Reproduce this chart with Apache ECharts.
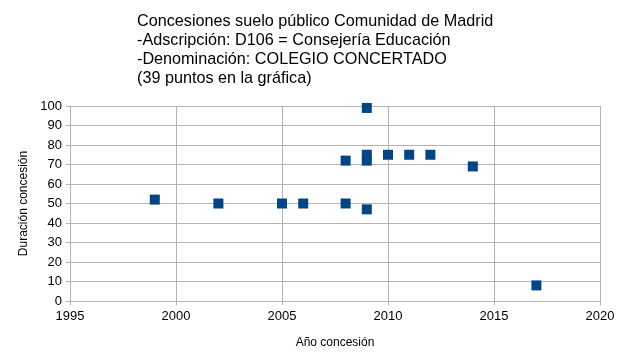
<!DOCTYPE html>
<html>
<head>
<meta charset="utf-8">
<script src="https://cdn.jsdelivr.net/npm/echarts@6/dist/echarts.min.js"></script>
<style>
  html, body { margin: 0; padding: 0; background: #fff; }
  #chart { width: 625px; height: 354px; }
</style>
</head>
<body>
<div id="chart"></div>
<script>
// datos
const years = [1999, 2002, 2005, 2006, 2008, 2008, 2009, 2009, 2009, 2009, 2010, 2011, 2012, 2014, 2017];
const durations = [52, 50, 50, 50, 72, 50, 99, 75, 72, 47, 75, 75, 75, 69, 8];
const titleLines = [
  'Concesiones suelo público Comunidad de Madrid',
  '-Adscripción: D106 = Consejería Educación',
  '-Denominación: COLEGIO CONCERTADO',
  '(39 puntos en la gráfica)'
];

const points = years.map((y, i) => [y, durations[i]]);

const chart = echarts.init(document.getElementById('chart'));
const gridColor = '#b3b3b3';
chart.setOption({
  animation: false,
  title: {
    text: titleLines.join('\n'),
    left: 132,
    top: 7,
    textStyle: {
      fontFamily: 'Liberation Sans',
      fontSize: 16.2,
      fontWeight: 'normal',
      color: '#000',
      lineHeight: 19
    }
  },
  grid: { left: 70, right: 25, top: 106, bottom: 53 },
  xAxis: {
    type: 'value',
    min: 1995, max: 2020, interval: 5,
    name: 'Año concesión',
    nameLocation: 'middle',
    nameGap: 36,
    nameTextStyle: { fontFamily: 'Liberation Sans', fontSize: 12, color: '#000' },
    axisLine: { show: true, lineStyle: { color: gridColor } },
    axisTick: { show: true, length: 4, lineStyle: { color: gridColor } },
    axisLabel: { fontFamily: 'Liberation Sans', fontSize: 13, color: '#000', margin: 9, formatter: v => String(v) },
    splitLine: { show: true, lineStyle: { color: gridColor } }
  },
  yAxis: {
    type: 'value',
    min: 0, max: 100, interval: 10,
    name: 'Duración concesión',
    nameLocation: 'middle',
    nameGap: 40,
    nameRotate: 90,
    nameTextStyle: { fontFamily: 'Liberation Sans', fontSize: 12, color: '#000' },
    axisLine: { show: true, lineStyle: { color: gridColor } },
    axisTick: { show: true, length: 4, lineStyle: { color: gridColor } },
    axisLabel: { fontFamily: 'Liberation Sans', fontSize: 13, color: '#000', margin: 8 },
    splitLine: { show: true, lineStyle: { color: gridColor } }
  },
  series: [{
    type: 'scatter',
    symbol: 'rect',
    symbolSize: 10,
    data: points,
    itemStyle: { color: '#004586', opacity: 1 }
  }]
});
</script>
</body>
</html>
